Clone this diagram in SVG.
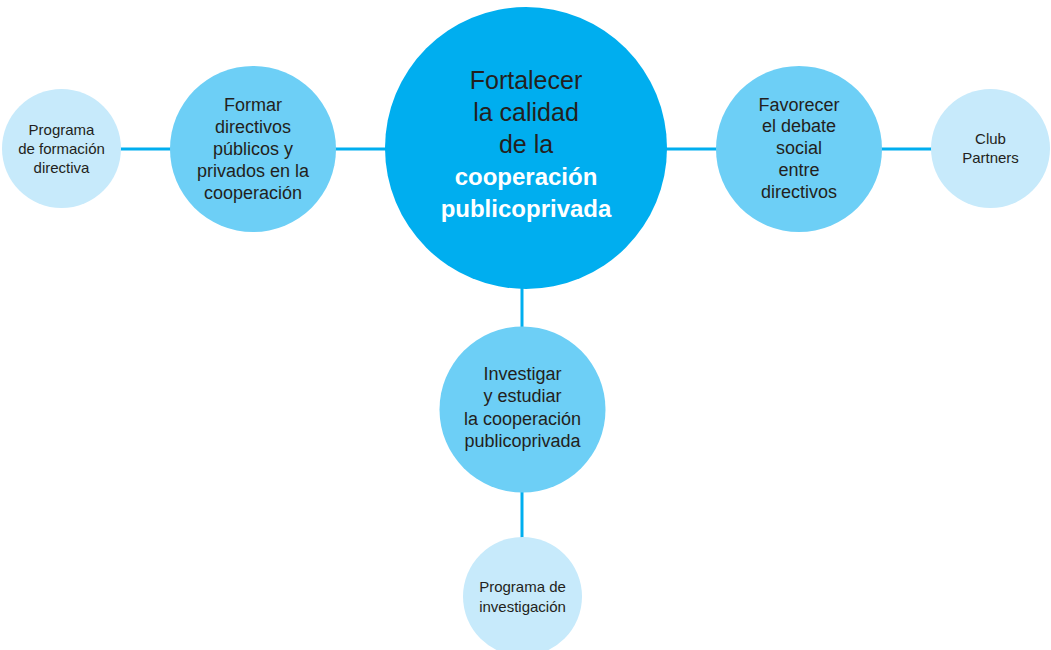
<svg xmlns="http://www.w3.org/2000/svg" width="1051" height="650" viewBox="0 0 1051 650">
<style>
.c0{fill:#00AEEF}
.c1{fill:#6DCFF6}
.c2{fill:#C7EAFB}
.ln{stroke:#00AEEF;stroke-width:3;fill:none}
text{font-family:"Liberation Sans",Arial,sans-serif;fill:#231F20;text-anchor:middle}
.t0{font-size:25px}
.tb{font-size:24px;font-weight:bold;fill:#FFFFFF}
.t1{font-size:18px}
.t2{font-size:15px}
</style>
<rect width="1051" height="650" fill="#FFFFFF"/>
<g id="connectors">
<line class="ln" x1="120" y1="149" x2="171" y2="149"/>
<line class="ln" x1="335" y1="149" x2="386" y2="149"/>
<line class="ln" x1="666" y1="149" x2="717" y2="149"/>
<line class="ln" x1="881" y1="149" x2="932" y2="149"/>
<line class="ln" x1="522" y1="288" x2="522" y2="328"/>
<line class="ln" x1="522" y1="491" x2="522" y2="538"/>
</g>
<g id="center">
<circle class="c0" cx="526" cy="148" r="141"/>
<text class="t0" x="526" y="89">Fortalecer</text>
<text class="t0" x="526" y="121">la calidad</text>
<text class="t0" x="526" y="153">de la</text>
<text class="tb" x="526" y="185">cooperación</text>
<text class="tb" x="526" y="217">publicoprivada</text>
</g>
<g id="formar">
<circle class="c1" cx="253" cy="149" r="83"/>
<text class="t1" x="253" y="111">Formar</text>
<text class="t1" x="253" y="133">directivos</text>
<text class="t1" x="253" y="155">públicos y</text>
<text class="t1" x="253" y="177">privados en la</text>
<text class="t1" x="253" y="199">cooperación</text>
</g>
<g id="programa-formacion">
<circle class="c2" cx="61.5" cy="148.5" r="59.5"/>
<text class="t2" x="61.5" y="135">Programa</text>
<text class="t2" x="61.5" y="154">de formación</text>
<text class="t2" x="61.5" y="173">directiva</text>
</g>
<g id="favorecer">
<circle class="c1" cx="799" cy="149" r="83"/>
<text class="t1" x="799" y="111">Favorecer</text>
<text class="t1" x="799" y="132">el debate</text>
<text class="t1" x="799" y="154">social</text>
<text class="t1" x="799" y="176">entre</text>
<text class="t1" x="799" y="198">directivos</text>
</g>
<g id="club-partners">
<circle class="c2" cx="990.5" cy="148.5" r="59.5"/>
<text class="t2" x="990.5" y="144">Club</text>
<text class="t2" x="990.5" y="163">Partners</text>
</g>
<g id="investigar">
<circle class="c1" cx="522.5" cy="409.5" r="83"/>
<text class="t1" x="522.5" y="380">Investigar</text>
<text class="t1" x="522.5" y="402">y estudiar</text>
<text class="t1" x="522.5" y="425">la cooperación</text>
<text class="t1" x="522.5" y="447">publicoprivada</text>
</g>
<g id="programa-investigacion">
<circle class="c2" cx="522.5" cy="596.5" r="59.5"/>
<text class="t2" x="522.5" y="592">Programa de</text>
<text class="t2" x="522.5" y="612">investigación</text>
</g>
</svg>
